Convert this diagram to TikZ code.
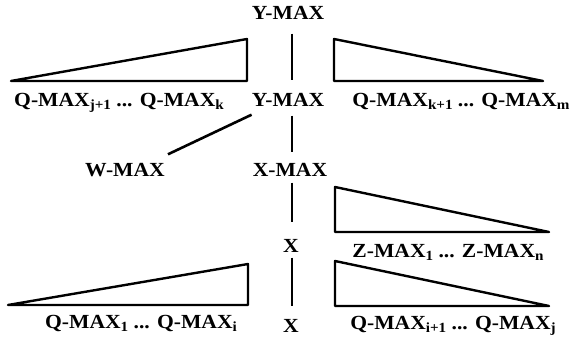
\documentclass[tikz,border=0pt]{standalone}
\usepackage{fontspec}
\setmainfont{Liberation Serif}[FakeStretch=1.08]
\newcommand{\lowidx}[1]{\raisebox{-0.35ex}{\fontsize{14}{14}\selectfont #1}}
\begin{document}
\begin{tikzpicture}[x=1pt,y=-1pt,
  lbl/.style={font=\fontsize{20}{20}\selectfont\bfseries, inner sep=0pt, text height=13pt, text depth=0pt},
  sublbl/.style={font=\fontsize{20}{20}\selectfont\bfseries, inner sep=0pt, anchor=base},
  tri/.style={line width=2.4pt, line join=round},
  conn/.style={line width=2.6pt}]
\useasboundingbox (0,0) rectangle (570,345);
% word nodes
\node[lbl] (ymaxA) at (288,13) {Y-MAX};
\node[lbl] (ymaxB) at (288,100) {Y-MAX};
\node[lbl] (wmax) at (125,170) {W-MAX};
\node[lbl] (xmax) at (290,170) {X-MAX};
\node[lbl] (xA) at (291,246) {X};
\node[lbl] (xB) at (291,326) {X};
% labels under triangles
\node[sublbl] (ljk) at (119,106) {Q-MAX\lowidx{j+1} ... Q-MAX\lowidx{k}};
\node[sublbl] (lkm) at (461,106) {Q-MAX\lowidx{k+1} ... Q-MAX\lowidx{m}};
\node[sublbl] (lz) at (448,257) {Z-MAX\lowidx{1} ... Z-MAX\lowidx{n}};
\node[sublbl] (lij) at (453,329) {Q-MAX\lowidx{i+1} ... Q-MAX\lowidx{j}};
\node[sublbl] (l1i) at (141,328) {Q-MAX\lowidx{1} ... Q-MAX\lowidx{i}};
% triangles
\draw[tri] (11,81) -- (247,39) -- (247,81) -- cycle;
\draw[tri] (334,39) -- (543,81) -- (334,81) -- cycle;
\draw[tri] (335,187) -- (549,232) -- (335,232) -- cycle;
\draw[tri] (335,261) -- (549,306) -- (335,306) -- cycle;
\draw[tri] (8,305) -- (248,264) -- (248,305) -- cycle;
% connectors
\draw[conn,shorten <=14pt,shorten >=13pt] ([xshift=4pt]ymaxA.south) -- ([xshift=4pt]ymaxB.north);
\draw[conn,shorten <=9pt,shorten >=11pt] ([xshift=4pt]ymaxB.south) -- ([xshift=2pt]xmax.north);
\draw[conn,shorten <=6pt,shorten >=17pt] ([xshift=2pt]xmax.south) -- ([xshift=1pt]xA.north);
\draw[conn,shorten <=5pt,shorten >=13pt] ([xshift=1pt]xA.south) -- ([xshift=1pt]xB.north);
\draw[conn] ([yshift=-8pt]ymaxB.south west) -- ([shift={(3pt,9pt)}]wmax.north east);
\end{tikzpicture}
\end{document}
